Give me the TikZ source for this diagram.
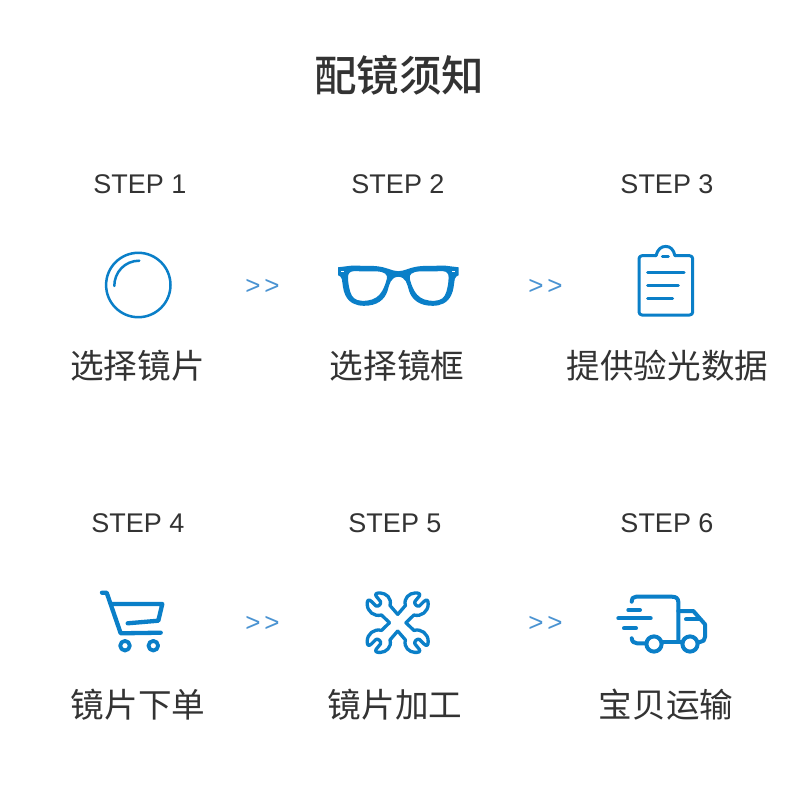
\documentclass[tikz,border=0pt]{standalone}
\usepackage{fontspec}
\setmainfont{Liberation Sans}
\newfontfamily\cjk{Noto Sans CJK SC}
\newfontfamily\cjkm{Noto Sans CJK SC Medium}
\definecolor{ink}{HTML}{333333}
\definecolor{iconblue}{HTML}{0A7FC8}
\definecolor{sepblue}{HTML}{4A93D2}
\tikzset{
  titlelabel/.style={text=ink,inner sep=0pt,font=\cjkm\fontsize{42.5}{50}\selectfont},
  steplabel/.style={text=ink,inner sep=0pt,font=\fontsize{27}{30}\selectfont},
  namelabel/.style={text=ink,inner sep=0pt,font=\cjk\fontsize{33.6}{40}\selectfont},
  seplabel/.style={text=sepblue,inner sep=0pt,font=\fontsize{26}{28}\selectfont},
  iconline/.style={draw=iconblue,line cap=round,line join=round},
}
\newcommand{\wrenchquad}{%
  \draw[iconline,line width=3.3] (397.7,614.4)
    -- (390,605.5) .. controls (392,598) and (386,593.2) .. (380.5,593)
    .. controls (377,592.8) and (374.5,593.5) .. (376.2,596.2)
    -- (380.5,601.5) .. controls (381.5,604) and (378.5,607) .. (376,606)
    -- (371.5,601.5)
    .. controls (368.5,598.7) and (367.2,600) .. (367.2,604)
    .. controls (367.2,611.5) and (374,617) .. (381.5,615)
    -- (389.5,622.7);
}
\begin{document}
\begin{tikzpicture}[x=1pt,y=-1pt]
\useasboundingbox (0,0) rectangle (800,800);
\fill[white] (0,0) rectangle (800,800);

\node[titlelabel] (title) at (399,75) {配镜须知};

\node[steplabel] (s1) at (140,184) {STEP 1};
\node[steplabel] (s2) at (398,184) {STEP 2};
\node[steplabel] (s3) at (667,184) {STEP 3};
\node[steplabel] (s4) at (138,523) {STEP 4};
\node[steplabel] (s5) at (395,523) {STEP 5};
\node[steplabel] (s6) at (667,523) {STEP 6};

\node[namelabel] (n1) at (137.5,366) {选择镜片};
\node[namelabel] (n2) at (397,366) {选择镜框};
\node[namelabel] (n3) at (667.5,366) {提供验光数据};
\node[namelabel] (n4) at (138,705) {镜片下单};
\node[namelabel] (n5) at (395,705) {镜片加工};
\node[namelabel] (n6) at (666,705) {宝贝运输};

\foreach \nm/\px/\py in {a/262.5/287,b/545.5/287,c/262.5/624,d/545.5/624}
  \node[seplabel] (sep\nm) at (\px,\py) {>\kern4pt>};

% lens
\draw[iconline,line width=2.5] (138.3,285) circle[radius=32.2];
\draw[iconline,line width=2.5] (114.3,286) .. controls (114.3,272) and (125,260.7) .. (139.3,260.7);

% glasses
\foreach \sx in {1,-1}{
\begin{scope}[shift={(398.3,0)},xscale=\sx,shift={(-398.3,0)}]
  \fill[iconblue,even odd rule]
    (398.6,271.3) .. controls (392,271.3) and (386,266.5) .. (374,266)
    -- (352,265.6) -- (338,267.3) -- (338,275.2)
    .. controls (340,276) and (341.3,277) .. (341.8,279)
    .. controls (342.8,284) and (342.8,290) .. (345.3,295)
    .. controls (349,303) and (356,305.8) .. (364,305.8)
    .. controls (377,305.8) and (384.5,300) .. (387.5,291)
    .. controls (389.5,284) and (390.5,277) .. (398.6,276.7) -- cycle
    (353.5,271.2) -- (377,271.4)
    .. controls (384.5,271.7) and (388,274.5) .. (386.8,279)
    .. controls (385,286) and (383,290.5) .. (379.5,294.7)
    .. controls (375.5,299) and (370,301) .. (362,300.8)
    .. controls (355,300.4) and (352,297.5) .. (350.3,292)
    .. controls (348.8,287) and (348,282) .. (348,277)
    .. controls (348,273.5) and (350,271.4) .. (353.5,271.2) -- cycle;
  \fill[white] (341.2,270.7) rectangle (344.2,271.5);
\end{scope}}

% clipboard
\draw[iconline,line width=3,rounded corners=3pt]
  (656,255.7) -- (639,255.7) -- (639,315) -- (692.7,315) -- (692.7,255.7) -- (675,255.7);
\draw[iconline,line width=3] (656,255.7) .. controls (657.5,249.5) and (661,246.4) .. (665.7,246.4)
  .. controls (670.4,246.4) and (673.5,249.5) .. (675,255.7);
\draw[iconline,line width=3] (662.3,256.6) -- (668.3,256.6);
\draw[iconline,line width=3] (647.7,272) -- (684,272);
\draw[iconline,line width=3] (647.7,285) -- (678.3,285);
\draw[iconline,line width=3] (647.7,298.3) -- (672.7,298.3);

% cart
\draw[iconline,line width=4.3] (102,592.7) -- (106.7,592.7) -- (120.7,633.3) -- (160.7,632.7);
\draw[iconline,line width=4.3] (111.7,604) -- (162.3,604) -- (158.3,620.7) -- (127.7,623.3);
\draw[iconline,line width=3.8] (125,645.7) circle[radius=4.8];
\draw[iconline,line width=3.8] (153.3,645.7) circle[radius=4.8];

% wrenches
\foreach \sx in {1,-1}{\foreach \sy in {1,-1}{
\begin{scope}[shift={(397.7,622.7)},xscale=\sx,yscale=\sy,shift={(-397.7,-622.7)}]
  \wrenchquad
\end{scope}}}

% truck
\begin{scope}[iconline,line width=4]
\draw (631.7,601.7) .. controls (632,598.5) and (633,596.7) .. (636,596.7) -- (672,596.7)
  .. controls (676,596.7) and (678.3,598.5) .. (678.3,602) -- (678.3,641);
\draw (678.3,611) -- (693.3,611) -- (705,624.3) -- (705,637) .. controls (705,640) and (703,642) .. (700,642);
\draw (686,619.3) -- (699,619.3);
\draw (654,644) circle[radius=7.6];
\draw (690,644) circle[radius=7.6];
\draw (631.7,638.3) .. controls (632,641.5) and (634,643.3) .. (637,643.3) -- (646,643.3);
\draw (661.7,642.3) -- (682.4,642.3);
\draw (628.3,610) -- (640,610);
\draw (618.3,618.3) -- (650.7,618.3);
\draw (624,628.3) -- (636,628.3);
\end{scope}
\end{tikzpicture}
\end{document}
